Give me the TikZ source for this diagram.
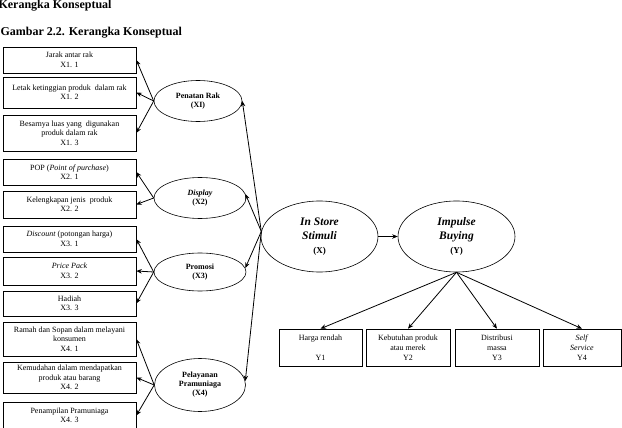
\documentclass[tikz,border=0pt]{standalone}
\usepackage{fontspec}
\setmainfont{Liberation Serif}
\usetikzlibrary{shapes.geometric,positioning,arrows.meta}
\tikzstyle{ind}=[draw,rectangle,minimum width=133pt,inner sep=1pt,align=center,
  font=\fontsize{8}{9.5}\selectfont,line width=.6pt]
\tikzstyle{indy}=[ind,minimum height=37pt,font=\fontsize{8}{10}\selectfont]
\tikzstyle{var}=[draw,ellipse,inner sep=0pt,align=center,
  font=\fontsize{8}{9}\selectfont\bfseries,line width=.6pt]
\tikzstyle{bigvar}=[var,minimum width=117pt,minimum height=71pt,
  font=\fontsize{11.5}{14}\selectfont\bfseries\itshape]
\tikzstyle{link}=[->,line width=.8pt]

\begin{document}
\begin{tikzpicture}[>={Stealth[length=5.5pt,width=4.5pt]}, x=1pt, y=-1pt, on grid, node distance=137pt]
  \useasboundingbox (0,0) rectangle (622,428);
  \node[anchor=base west,font=\fontsize{12}{14}\selectfont\bfseries] (head) at (-5,8.5) {Kerangka Konseptual};
  \node[anchor=base west,font=\fontsize{12}{14}\selectfont\bfseries] (fig) at (-3,36) {Gambar 2.2. Kerangka Konseptual};

  % indikator X
  \node[ind, minimum height=26pt] (x11) at (69.5,60) {Jarak antar rak\\X1. 1};
  \node[ind, minimum height=31pt] (x12) at (69.5,92.5) {Letak ketinggian produk\ \ dalam rak\\X1. 2};
  \node[ind, minimum height=36pt] (x13) at (69.5,133) {Besarnya luas yang\ \ digunakan\\produk dalam rak\\X1. 3};
  \node[ind, minimum height=26pt] (x21) at (69.5,172) {POP (\textit{Point of purchase})\\X2. 1};
  \node[ind, minimum height=27pt] (x22) at (69.5,204.5) {Kelengkapan jenis\ \ produk\\X2. 2};
  \node[ind, minimum height=26pt] (x31) at (69.5,239) {\textit{Discount} (potongan harga)\\X3. 1};
  \node[ind, minimum height=28pt] (x32) at (69.5,271) {\textit{Price Pack}\\X3. 2};
  \node[ind, minimum height=25pt] (x33) at (69.5,303.5) {Hadiah\\X3. 3};
  \node[ind, minimum height=34pt] (x41) at (69.5,339) {Ramah dan Sopan dalam melayani\\konsumen\\X4. 1};
  \node[ind, minimum height=31pt] (x42) at (69.5,377.5) {Kemudahan dalam mendapatkan\\produk atau barang\\X4. 2};
  \node[ind, minimum height=27pt] (x43) at (69.5,415.5) {Penampilan Pramuniaga\\X4. 3};

  % variabel X
  \node[var, minimum width=88pt, minimum height=41pt] (px1) at (198,101) {Penatan Rak\\(XI)};
  \node[var, minimum width=92pt, minimum height=41pt] (px2) at (200,198) {\textit{Display}\\(X2)};
  \node[var, minimum width=92pt, minimum height=38pt] (px3) at (200,272) {Promosi\\(X3)};
  \node[var, minimum width=91pt, minimum height=53pt] (px4) at (200,385) {Pelayanan\\Pramuniaga\\(X4)};

  \foreach \b in {x11,x12,x13} \draw[link] (px1.west) -- (\b.east);
  \foreach \b in {x21,x22} \draw[link] (px2.west) -- (\b.east);
  \foreach \b in {x31,x32,x33} \draw[link] (px3.west) -- (\b.east);
  \foreach \b in {x41,x42,x43} \draw[link] (px4.west) -- (\b.east);

  % X dan Y
  \node[bigvar] (isx) at (319.5,236.5) {In Store\\Stimuli\\{\fontsize{9}{11}\selectfont\upshape (X)}};
  \node[bigvar, right=of isx] (py) {Impulse\\Buying\\{\fontsize{9}{11}\selectfont\upshape (Y)}};
  \draw[link] (isx) -- (py);
  \draw[link] (isx.175) -- (px1.east);
  \draw[link] (isx.175) -- (px2.5);
  \draw[link] (isx.175) -- (px3.5);
  \draw[link] (isx.175) -- (px4.5);

  % indikator Y
  \node[indy, minimum width=83pt] (y1) at (320.5,347.5) {Harga rendah\\[10pt]Y1};
  \node[indy, minimum width=84pt] (y2) at (408,347.5) {Kebutuhan produk\\atau merek\\Y2};
  \node[indy, minimum width=84pt] (y3) at (497,347.5) {Distribusi\\massa\\Y3};
  \node[indy, minimum width=78pt] (y4) at (582,347.5) {\textit{Self}\\\textit{Service}\\Y4};
  \foreach \b in {y1,y2,y3,y4} \draw[link] (py.south) -- (\b.north);
\end{tikzpicture}
\end{document}
